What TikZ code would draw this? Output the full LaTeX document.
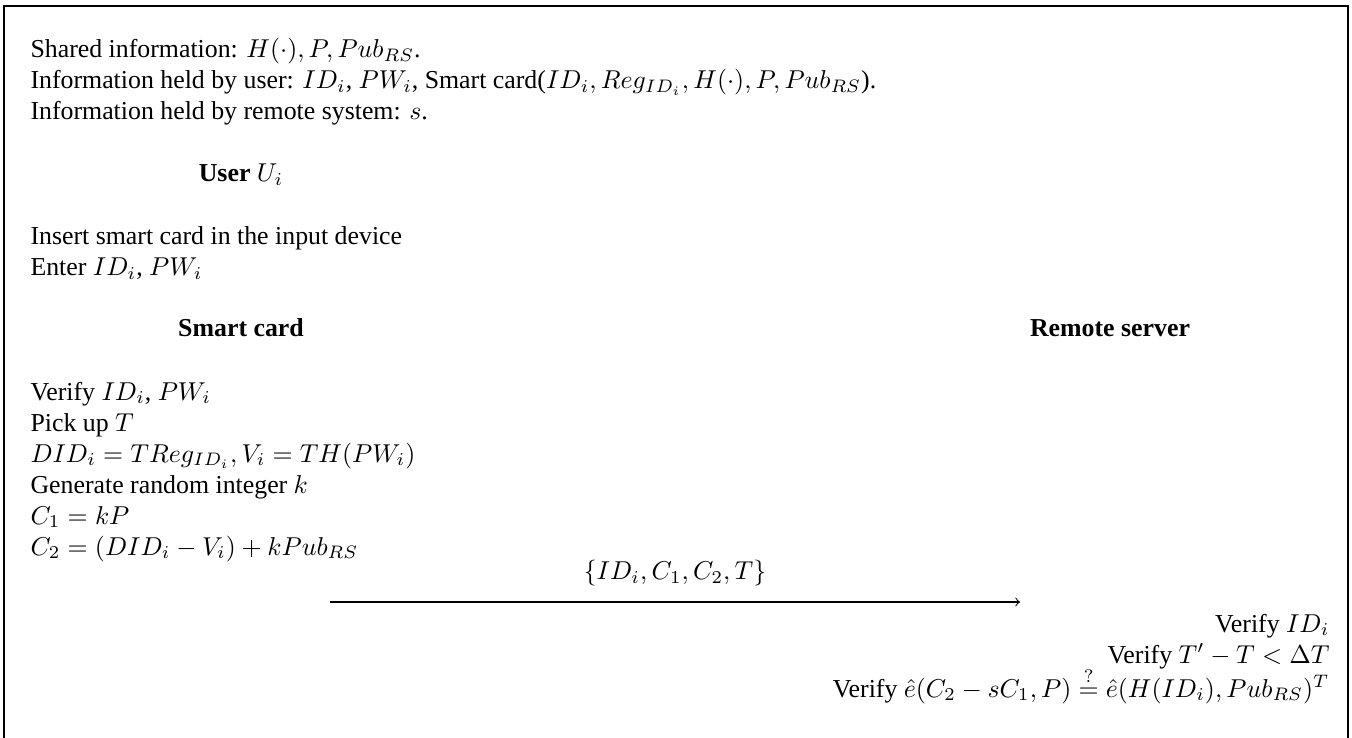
\documentclass[tikz,border=0pt]{standalone}
\usepackage[no-math]{fontspec}
\setmainfont{Liberation Serif}
\usepackage{amsmath}

\begin{document}
\begin{tikzpicture}[x=0.3871pt, y=-0.3871pt,
	txt/.style={inner sep=0pt, anchor=base west},
	rtxt/.style={inner sep=0pt, anchor=base east},
	head/.style={inner sep=0pt, anchor=base, font=\bfseries}]
	\useasboundingbox (0,0) rectangle (1352,738);
	\draw[line width=0.5pt] (4,738) -- (4,6) -- (1348,6) -- (1348,738);
	\pgfmathsetmacro{\dy}{31};
	% what each side knows
	\node[txt] (shared) at (30,58) {Shared information: $H(\cdot), P, Pub_{RS}$.};
	\node[txt] (heldU) at (30,58+\dy) {Information held by user: $ID_i$, $PW_i$, Smart card($ID_i, Reg_{ID_i}, H(\cdot), P, Pub_{RS}$).};
	\node[txt] (heldRS) at (30,58+2*\dy) {Information held by remote system: $s$.};
	% user
	\node[head] (user) at (241,182) {User \normalfont$U_i$};
	\node[txt] (insert) at (30,245) {Insert smart card in the input device};
	\node[txt] (enter) at (30,245+\dy) {Enter $ID_i$, $PW_i$};
	% the two parties
	\node[head] (card) at (241,337) {Smart card};
	\node[head] (server) at (1110,337) {Remote server};
	\foreach \t [count=\k] in {{Verify $ID_i$, $PW_i$}, {Pick up $T$}, {$DID_i = TReg_{ID_i}, V_i = TH(PW_i)$}, {Generate random integer $k$}, {$C_1 = kP$}, {$C_2 = (DID_i - V_i) + kPub_{RS}$}} {
		\node[txt] (sc\k) at (30,369+\k*\dy) {\t};
	}
	% message
	\coordinate (from) at (330,602);
	\coordinate (to) at (1020,602);
	\draw[->] (from) -- (to) node[midway, above=6pt, inner sep=0pt] (msg) {$\{ID_i, C_1, C_2, T\}$};
	% server side checks
	\node[rtxt] (v1) at (1330,632) {Verify $ID_i$};
	\node[rtxt] (v2) at (1330,632+\dy) {Verify $T' - T < \Delta T$};
	\node[rtxt] (v3) at (1330,697) {Verify $\hat{e}(C_2 - sC_1, P) \stackrel{?}{=} \hat{e}(H(ID_i), Pub_{RS})^T$};
\end{tikzpicture}
\end{document}
